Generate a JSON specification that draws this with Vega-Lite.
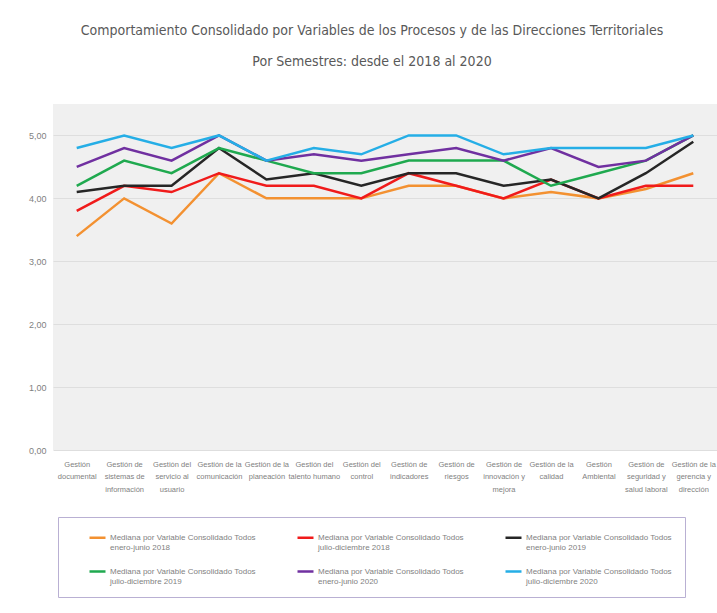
{
  "$schema": "https://vega.github.io/schema/vega-lite/v6.json",
  "width": 664,
  "height": 346,
  "autosize": {"type": "none"},
  "padding": {"left": 53, "top": 104, "right": 0, "bottom": 163},
  "background": "white",
  "title": {
    "text": ["Comportamiento Consolidado por Variables de los Procesos y de las Direcciones Territoriales", "Por Semestres: desde  el 2018 al 2020"],
    "fontSize": 14,
    "font": "DejaVu Sans Condensed",
    "fontWeight": "normal",
    "color": "#595959",
    "lineHeight": 31,
    "anchor": "middle",
    "dx": -13,
    "offset": 35
  },
  "data": {
    "values": [
      {"proceso": "Gestión|documental", "serie": "Mediana por Variable Consolidado Todos|enero-junio 2018", "valor": 3.4},
      {"proceso": "Gestión de|sistemas de|información", "serie": "Mediana por Variable Consolidado Todos|enero-junio 2018", "valor": 4.0},
      {"proceso": "Gestión del|servicio al|usuario", "serie": "Mediana por Variable Consolidado Todos|enero-junio 2018", "valor": 3.6},
      {"proceso": "Gestión de la|comunicación", "serie": "Mediana por Variable Consolidado Todos|enero-junio 2018", "valor": 4.4},
      {"proceso": "Gestión de la|planeación", "serie": "Mediana por Variable Consolidado Todos|enero-junio 2018", "valor": 4.0},
      {"proceso": "Gestión del|talento humano", "serie": "Mediana por Variable Consolidado Todos|enero-junio 2018", "valor": 4.0},
      {"proceso": "Gestión del|control", "serie": "Mediana por Variable Consolidado Todos|enero-junio 2018", "valor": 4.0},
      {"proceso": "Gestión de|indicadores", "serie": "Mediana por Variable Consolidado Todos|enero-junio 2018", "valor": 4.2},
      {"proceso": "Gestión de|riesgos", "serie": "Mediana por Variable Consolidado Todos|enero-junio 2018", "valor": 4.2},
      {"proceso": "Gestión de|innovación y|mejora", "serie": "Mediana por Variable Consolidado Todos|enero-junio 2018", "valor": 4.0},
      {"proceso": "Gestión de la|calidad", "serie": "Mediana por Variable Consolidado Todos|enero-junio 2018", "valor": 4.1},
      {"proceso": "Gestión|Ambiental", "serie": "Mediana por Variable Consolidado Todos|enero-junio 2018", "valor": 4.0},
      {"proceso": "Gestión de|seguridad y|salud laboral", "serie": "Mediana por Variable Consolidado Todos|enero-junio 2018", "valor": 4.15},
      {"proceso": "Gestión de la|gerencia y|dirección", "serie": "Mediana por Variable Consolidado Todos|enero-junio 2018", "valor": 4.4},

      {"proceso": "Gestión|documental", "serie": "Mediana por Variable Consolidado Todos|julio-diciembre 2018", "valor": 3.8},
      {"proceso": "Gestión de|sistemas de|información", "serie": "Mediana por Variable Consolidado Todos|julio-diciembre 2018", "valor": 4.2},
      {"proceso": "Gestión del|servicio al|usuario", "serie": "Mediana por Variable Consolidado Todos|julio-diciembre 2018", "valor": 4.1},
      {"proceso": "Gestión de la|comunicación", "serie": "Mediana por Variable Consolidado Todos|julio-diciembre 2018", "valor": 4.4},
      {"proceso": "Gestión de la|planeación", "serie": "Mediana por Variable Consolidado Todos|julio-diciembre 2018", "valor": 4.2},
      {"proceso": "Gestión del|talento humano", "serie": "Mediana por Variable Consolidado Todos|julio-diciembre 2018", "valor": 4.2},
      {"proceso": "Gestión del|control", "serie": "Mediana por Variable Consolidado Todos|julio-diciembre 2018", "valor": 4.0},
      {"proceso": "Gestión de|indicadores", "serie": "Mediana por Variable Consolidado Todos|julio-diciembre 2018", "valor": 4.4},
      {"proceso": "Gestión de|riesgos", "serie": "Mediana por Variable Consolidado Todos|julio-diciembre 2018", "valor": 4.2},
      {"proceso": "Gestión de|innovación y|mejora", "serie": "Mediana por Variable Consolidado Todos|julio-diciembre 2018", "valor": 4.0},
      {"proceso": "Gestión de la|calidad", "serie": "Mediana por Variable Consolidado Todos|julio-diciembre 2018", "valor": 4.3},
      {"proceso": "Gestión|Ambiental", "serie": "Mediana por Variable Consolidado Todos|julio-diciembre 2018", "valor": 4.0},
      {"proceso": "Gestión de|seguridad y|salud laboral", "serie": "Mediana por Variable Consolidado Todos|julio-diciembre 2018", "valor": 4.2},
      {"proceso": "Gestión de la|gerencia y|dirección", "serie": "Mediana por Variable Consolidado Todos|julio-diciembre 2018", "valor": 4.2},

      {"proceso": "Gestión|documental", "serie": "Mediana por Variable Consolidado Todos|enero-junio 2019", "valor": 4.1},
      {"proceso": "Gestión de|sistemas de|información", "serie": "Mediana por Variable Consolidado Todos|enero-junio 2019", "valor": 4.2},
      {"proceso": "Gestión del|servicio al|usuario", "serie": "Mediana por Variable Consolidado Todos|enero-junio 2019", "valor": 4.2},
      {"proceso": "Gestión de la|comunicación", "serie": "Mediana por Variable Consolidado Todos|enero-junio 2019", "valor": 4.8},
      {"proceso": "Gestión de la|planeación", "serie": "Mediana por Variable Consolidado Todos|enero-junio 2019", "valor": 4.3},
      {"proceso": "Gestión del|talento humano", "serie": "Mediana por Variable Consolidado Todos|enero-junio 2019", "valor": 4.4},
      {"proceso": "Gestión del|control", "serie": "Mediana por Variable Consolidado Todos|enero-junio 2019", "valor": 4.2},
      {"proceso": "Gestión de|indicadores", "serie": "Mediana por Variable Consolidado Todos|enero-junio 2019", "valor": 4.4},
      {"proceso": "Gestión de|riesgos", "serie": "Mediana por Variable Consolidado Todos|enero-junio 2019", "valor": 4.4},
      {"proceso": "Gestión de|innovación y|mejora", "serie": "Mediana por Variable Consolidado Todos|enero-junio 2019", "valor": 4.2},
      {"proceso": "Gestión de la|calidad", "serie": "Mediana por Variable Consolidado Todos|enero-junio 2019", "valor": 4.3},
      {"proceso": "Gestión|Ambiental", "serie": "Mediana por Variable Consolidado Todos|enero-junio 2019", "valor": 4.0},
      {"proceso": "Gestión de|seguridad y|salud laboral", "serie": "Mediana por Variable Consolidado Todos|enero-junio 2019", "valor": 4.4},
      {"proceso": "Gestión de la|gerencia y|dirección", "serie": "Mediana por Variable Consolidado Todos|enero-junio 2019", "valor": 4.9},

      {"proceso": "Gestión|documental", "serie": "Mediana por  Variable Consolidado Todos|julio-diciembre 2019", "valor": 4.2},
      {"proceso": "Gestión de|sistemas de|información", "serie": "Mediana por  Variable Consolidado Todos|julio-diciembre 2019", "valor": 4.6},
      {"proceso": "Gestión del|servicio al|usuario", "serie": "Mediana por  Variable Consolidado Todos|julio-diciembre 2019", "valor": 4.4},
      {"proceso": "Gestión de la|comunicación", "serie": "Mediana por  Variable Consolidado Todos|julio-diciembre 2019", "valor": 4.8},
      {"proceso": "Gestión de la|planeación", "serie": "Mediana por  Variable Consolidado Todos|julio-diciembre 2019", "valor": 4.6},
      {"proceso": "Gestión del|talento humano", "serie": "Mediana por  Variable Consolidado Todos|julio-diciembre 2019", "valor": 4.4},
      {"proceso": "Gestión del|control", "serie": "Mediana por  Variable Consolidado Todos|julio-diciembre 2019", "valor": 4.4},
      {"proceso": "Gestión de|indicadores", "serie": "Mediana por  Variable Consolidado Todos|julio-diciembre 2019", "valor": 4.6},
      {"proceso": "Gestión de|riesgos", "serie": "Mediana por  Variable Consolidado Todos|julio-diciembre 2019", "valor": 4.6},
      {"proceso": "Gestión de|innovación y|mejora", "serie": "Mediana por  Variable Consolidado Todos|julio-diciembre 2019", "valor": 4.6},
      {"proceso": "Gestión de la|calidad", "serie": "Mediana por  Variable Consolidado Todos|julio-diciembre 2019", "valor": 4.2},
      {"proceso": "Gestión|Ambiental", "serie": "Mediana por  Variable Consolidado Todos|julio-diciembre 2019", "valor": 4.4},
      {"proceso": "Gestión de|seguridad y|salud laboral", "serie": "Mediana por  Variable Consolidado Todos|julio-diciembre 2019", "valor": 4.6},
      {"proceso": "Gestión de la|gerencia y|dirección", "serie": "Mediana por  Variable Consolidado Todos|julio-diciembre 2019", "valor": 5.0},

      {"proceso": "Gestión|documental", "serie": "Mediana  por Variable Consolidado Todos|enero-junio 2020", "valor": 4.5},
      {"proceso": "Gestión de|sistemas de|información", "serie": "Mediana  por Variable Consolidado Todos|enero-junio 2020", "valor": 4.8},
      {"proceso": "Gestión del|servicio al|usuario", "serie": "Mediana  por Variable Consolidado Todos|enero-junio 2020", "valor": 4.6},
      {"proceso": "Gestión de la|comunicación", "serie": "Mediana  por Variable Consolidado Todos|enero-junio 2020", "valor": 5.0},
      {"proceso": "Gestión de la|planeación", "serie": "Mediana  por Variable Consolidado Todos|enero-junio 2020", "valor": 4.6},
      {"proceso": "Gestión del|talento humano", "serie": "Mediana  por Variable Consolidado Todos|enero-junio 2020", "valor": 4.7},
      {"proceso": "Gestión del|control", "serie": "Mediana  por Variable Consolidado Todos|enero-junio 2020", "valor": 4.6},
      {"proceso": "Gestión de|indicadores", "serie": "Mediana  por Variable Consolidado Todos|enero-junio 2020", "valor": 4.7},
      {"proceso": "Gestión de|riesgos", "serie": "Mediana  por Variable Consolidado Todos|enero-junio 2020", "valor": 4.8},
      {"proceso": "Gestión de|innovación y|mejora", "serie": "Mediana  por Variable Consolidado Todos|enero-junio 2020", "valor": 4.6},
      {"proceso": "Gestión de la|calidad", "serie": "Mediana  por Variable Consolidado Todos|enero-junio 2020", "valor": 4.8},
      {"proceso": "Gestión|Ambiental", "serie": "Mediana  por Variable Consolidado Todos|enero-junio 2020", "valor": 4.5},
      {"proceso": "Gestión de|seguridad y|salud laboral", "serie": "Mediana  por Variable Consolidado Todos|enero-junio 2020", "valor": 4.6},
      {"proceso": "Gestión de la|gerencia y|dirección", "serie": "Mediana  por Variable Consolidado Todos|enero-junio 2020", "valor": 5.0},

      {"proceso": "Gestión|documental", "serie": "Mediana  por Variable Consolidado Todos|julio-diciembre 2020", "valor": 4.8},
      {"proceso": "Gestión de|sistemas de|información", "serie": "Mediana  por Variable Consolidado Todos|julio-diciembre 2020", "valor": 5.0},
      {"proceso": "Gestión del|servicio al|usuario", "serie": "Mediana  por Variable Consolidado Todos|julio-diciembre 2020", "valor": 4.8},
      {"proceso": "Gestión de la|comunicación", "serie": "Mediana  por Variable Consolidado Todos|julio-diciembre 2020", "valor": 5.0},
      {"proceso": "Gestión de la|planeación", "serie": "Mediana  por Variable Consolidado Todos|julio-diciembre 2020", "valor": 4.6},
      {"proceso": "Gestión del|talento humano", "serie": "Mediana  por Variable Consolidado Todos|julio-diciembre 2020", "valor": 4.8},
      {"proceso": "Gestión del|control", "serie": "Mediana  por Variable Consolidado Todos|julio-diciembre 2020", "valor": 4.7},
      {"proceso": "Gestión de|indicadores", "serie": "Mediana  por Variable Consolidado Todos|julio-diciembre 2020", "valor": 5.0},
      {"proceso": "Gestión de|riesgos", "serie": "Mediana  por Variable Consolidado Todos|julio-diciembre 2020", "valor": 5.0},
      {"proceso": "Gestión de|innovación y|mejora", "serie": "Mediana  por Variable Consolidado Todos|julio-diciembre 2020", "valor": 4.7},
      {"proceso": "Gestión de la|calidad", "serie": "Mediana  por Variable Consolidado Todos|julio-diciembre 2020", "valor": 4.8},
      {"proceso": "Gestión|Ambiental", "serie": "Mediana  por Variable Consolidado Todos|julio-diciembre 2020", "valor": 4.8},
      {"proceso": "Gestión de|seguridad y|salud laboral", "serie": "Mediana  por Variable Consolidado Todos|julio-diciembre 2020", "valor": 4.8},
      {"proceso": "Gestión de la|gerencia y|dirección", "serie": "Mediana  por Variable Consolidado Todos|julio-diciembre 2020", "valor": 5.0}
    ]
  },
  "mark": {"type": "line", "strokeWidth": 2.5},
  "encoding": {
    "x": {
      "field": "proceso",
      "type": "nominal",
      "sort": null,
      "scale": {"type": "point", "padding": 0.5},
      "axis": {
        "title": null,
        "labelExpr": "split(datum.label, '|')",
        "labelAngle": 0,
        "ticks": false,
        "domain": false,
        "grid": false,
        "labelPadding": 10,
        "labelFontSize": 7.5,
        "labelLineHeight": 12.5,
        "labelColor": "#7f7f7f",
        "labelFont": "Liberation Sans",
        "labelLimit": 0
      }
    },
    "y": {
      "field": "valor",
      "type": "quantitative",
      "scale": {"domain": [0, 5.5], "nice": false, "zero": true},
      "axis": {
        "title": null,
        "values": [0, 1, 2, 3, 4, 5],
        "labelExpr": "replace(format(datum.value, '.2f'), '.', ',')",
        "domain": false,
        "ticks": false,
        "labelPadding": 7,
        "labelFontSize": 9,
        "labelColor": "#7f7f7f",
        "labelFont": "Liberation Sans",
        "gridColor": "#dedede",
        "gridWidth": 1
      }
    },
    "color": {
      "field": "serie",
      "type": "nominal",
      "scale": {
        "domain": [
          "Mediana por Variable Consolidado Todos|enero-junio 2018",
          "Mediana por Variable Consolidado Todos|julio-diciembre 2018",
          "Mediana por Variable Consolidado Todos|enero-junio 2019",
          "Mediana por  Variable Consolidado Todos|julio-diciembre 2019",
          "Mediana  por Variable Consolidado Todos|enero-junio 2020",
          "Mediana  por Variable Consolidado Todos|julio-diciembre 2020"
        ],
        "range": ["#f39131", "#f01b1b", "#262626", "#1fa94f", "#7030a0", "#25aee6"]
      },
      "legend": {
        "title": null,
        "orient": "none",
        "direction": "horizontal",
        "legendX": 5,
        "legendY": 413,
        "columns": 3,
        "labelExpr": "split(datum.label, '|')",
        "symbolType": "stroke",
        "symbolStrokeWidth": 2.5,
        "symbolSize": 256,
        "padding": 11,
        "symbolOffset": 19,
        "strokeColor": "#b9b0d3",
        "fillColor": "white",
        "labelFontSize": 8,
        "labelLineHeight": 14,
        "labelColor": "#7f7f7f",
        "labelFont": "Liberation Sans",
        "labelLimit": 300,
        "rowPadding": 10,
        "columnPadding": 19,
        "labelOffset": 3
      }
    }
  },
  "config": {
    "view": {"fill": "#f0f0f0", "stroke": null}
  }
}
